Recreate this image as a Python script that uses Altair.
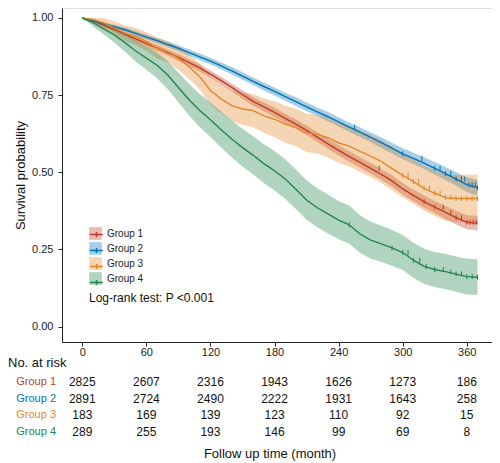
import altair as alt
import pandas as pd

GROUPS = ["Group 1", "Group 2", "Group 3", "Group 4"]
COLORS = ["#BC3C29", "#0072B5", "#E18727", "#20854E"]

TIME = [0, 10, 20, 30, 40, 50, 60, 70, 80, 90, 100, 110, 120, 130, 140, 150, 160, 170, 180,
        190, 200, 210, 220, 230, 240, 250, 260, 270, 280, 290, 300, 310, 320, 330, 340, 350, 360, 370]

SURV = {
    "Group 1": [1.000, 0.990, 0.977, 0.963, 0.948, 0.932, 0.917, 0.903, 0.888, 0.872, 0.855, 0.838,
                0.818, 0.797, 0.775, 0.752, 0.730, 0.712, 0.694, 0.675, 0.656, 0.636, 0.614, 0.592,
                0.571, 0.551, 0.532, 0.513, 0.493, 0.472, 0.446, 0.425, 0.405, 0.387, 0.370, 0.353,
                0.338, 0.335],
    "Group 2": [1.000, 0.992, 0.982, 0.972, 0.962, 0.950, 0.938, 0.927, 0.914, 0.902, 0.888, 0.874,
                0.860, 0.845, 0.829, 0.812, 0.795, 0.778, 0.762, 0.745, 0.729, 0.712, 0.696, 0.680,
                0.663, 0.646, 0.630, 0.613, 0.596, 0.578, 0.560, 0.545, 0.530, 0.513, 0.496, 0.478,
                0.460, 0.450],
    "Group 3": [1.000, 0.995, 0.984, 0.967, 0.951, 0.940, 0.924, 0.902, 0.891, 0.869, 0.842, 0.810,
                0.765, 0.738, 0.716, 0.705, 0.700, 0.683, 0.672, 0.656, 0.645, 0.628, 0.623, 0.612,
                0.595, 0.585, 0.568, 0.552, 0.535, 0.512, 0.490, 0.470, 0.448, 0.432, 0.418, 0.415,
                0.415, 0.415],
    "Group 4": [1.000, 0.985, 0.965, 0.945, 0.920, 0.893, 0.870, 0.847, 0.815, 0.775, 0.735, 0.700,
                0.670, 0.638, 0.608, 0.580, 0.555, 0.528, 0.505, 0.478, 0.445, 0.410, 0.385, 0.365,
                0.345, 0.330, 0.300, 0.280, 0.268, 0.255, 0.240, 0.215, 0.195, 0.185, 0.178, 0.170,
                0.162, 0.160],
}

HALF = {
    "Group 1": [0.000, 0.003, 0.005, 0.006, 0.007, 0.008, 0.009, 0.010, 0.010, 0.011, 0.011, 0.012,
                0.012, 0.013, 0.013, 0.014, 0.014, 0.014, 0.015, 0.015, 0.015, 0.016, 0.016, 0.016,
                0.017, 0.017, 0.017, 0.018, 0.018, 0.018, 0.019, 0.019, 0.020, 0.020, 0.021, 0.022,
                0.023, 0.024],
    "Group 2": [0.000, 0.003, 0.005, 0.006, 0.007, 0.008, 0.008, 0.009, 0.009, 0.010, 0.010, 0.011,
                0.011, 0.011, 0.012, 0.012, 0.012, 0.013, 0.013, 0.013, 0.014, 0.014, 0.014, 0.015,
                0.015, 0.015, 0.016, 0.016, 0.017, 0.017, 0.018, 0.018, 0.019, 0.020, 0.021, 0.022,
                0.024, 0.026],
    "Group 3": [0.000, 0.010, 0.018, 0.022, 0.025, 0.028, 0.030, 0.033, 0.035, 0.037, 0.040, 0.042,
                0.045, 0.047, 0.050, 0.052, 0.054, 0.056, 0.058, 0.060, 0.061, 0.062, 0.063, 0.064,
                0.065, 0.066, 0.067, 0.068, 0.069, 0.070, 0.071, 0.072, 0.073, 0.074, 0.075, 0.076,
                0.077, 0.078],
    "Group 4": [0.000, 0.012, 0.018, 0.024, 0.029, 0.034, 0.038, 0.042, 0.045, 0.048, 0.051, 0.054,
                0.056, 0.058, 0.060, 0.061, 0.062, 0.063, 0.064, 0.064, 0.064, 0.064, 0.063, 0.063,
                0.062, 0.062, 0.061, 0.060, 0.059, 0.058, 0.057, 0.057, 0.057, 0.057, 0.057, 0.057,
                0.058, 0.058],
}

CENSOR = {
    "Group 1": [278, 320, 330, 338, 345, 350, 355, 360, 363, 366, 369],
    "Group 2": [255, 300, 318, 330, 335, 340, 345, 350, 355, 358, 362, 365, 368, 370],
    "Group 3": [300, 305, 310, 315, 320, 325, 330, 335, 340, 345, 350, 355, 360, 365, 370],
    "Group 4": [250, 290, 300, 305, 310, 316, 322, 330, 338, 345, 350, 355, 360, 365, 370],
}

RISK_TIMES = [0, 60, 120, 180, 240, 300, 360]
RISK = {
    "Group 1": [2825, 2607, 2316, 1943, 1626, 1273, 186],
    "Group 2": [2891, 2724, 2490, 2222, 1931, 1643, 258],
    "Group 3": [183, 169, 139, 123, 110, 92, 15],
    "Group 4": [289, 255, 193, 146, 99, 69, 8],
}

FONT = "Liberation Sans"

rows = []
for g in GROUPS:
    for t, s, h in zip(TIME, SURV[g], HALF[g]):
        rows.append(dict(Group=g, Series=g, time=t, surv=s,
                         lo=max(s - h, 0.0), hi=min(s + h, 1.0)))
curve = pd.DataFrame(rows)

crow = []
for g in GROUPS:
    for c in CENSOR[g]:
        idx = min(c // 10, len(TIME) - 1)
        crow.append(dict(Series=g, time=c, surv=SURV[g][idx]))
cens = pd.DataFrame(crow)

rrow = []
for g in GROUPS:
    for t, n in zip(RISK_TIMES, RISK[g]):
        rrow.append(dict(Group=g, time=t, n=str(n)))
risk = pd.DataFrame(rrow)

xscale = alt.Scale(domain=[-19, 383.6], nice=False, zero=False)
yscale = alt.Scale(domain=[-0.05, 1.0324], nice=False, zero=False)

xaxis = alt.Axis(values=RISK_TIMES, format="d", title=None, grid=False, tickSize=4,
                 labelPadding=0, labelFontSize=11, labelColor="#222", domainColor="#222",
                 tickColor="#222", labelFont=FONT)
yaxis = alt.Axis(values=[0, 0.25, 0.5, 0.75, 1.0], format=".2f", title="Survival probability",
                 grid=False, tickSize=4, labelPadding=5, labelFontSize=11, labelColor="#222",
                 domainColor="#222", tickColor="#222", titleFontSize=13, titleFontWeight="normal",
                 titlePadding=4, labelFont=FONT, titleFont=FONT, titleColor="#111")

band = alt.Chart(curve).mark_area(opacity=0.35).encode(
    x=alt.X("time:Q", scale=xscale, axis=xaxis),
    y=alt.Y("lo:Q", scale=yscale, axis=yaxis),
    y2="hi:Q",
    fill=alt.Fill("Group:N", scale=alt.Scale(range=COLORS),
                  legend=alt.Legend(orient="none", legendX=27, legendY=219, title=None,
                                    symbolType="square", symbolSize=160, symbolOpacity=0.35,
                                    symbolStrokeWidth=0, labelFontSize=10, labelOffset=5,
                                    rowPadding=2, labelFont=FONT, labelColor="#222")),
)

line = alt.Chart(curve).mark_line(strokeWidth=1.4).encode(
    x=alt.X("time:Q", scale=xscale),
    y=alt.Y("surv:Q", scale=yscale),
    stroke=alt.Stroke("Series:N", scale=alt.Scale(range=COLORS),
                      legend=alt.Legend(orient="none", legendX=27, legendY=219, title=None,
                                        symbolType="M-1,0H1M0,-0.4V0.4", symbolSize=160,
                                        symbolStrokeWidth=1.5, symbolFillColor="transparent",
                                        labelFontSize=10, labelOffset=5, rowPadding=2,
                                        labelExpr="''", labelFont=FONT)),
)

ticks = alt.Chart(cens).mark_tick(orient="vertical", size=5, thickness=1, opacity=1).encode(
    x=alt.X("time:Q", scale=xscale),
    y=alt.Y("surv:Q", scale=yscale),
    color=alt.Color("Series:N", scale=alt.Scale(range=COLORS), legend=None),
)

logrank = alt.Chart(pd.DataFrame({"time": [6.3], "surv": [0.094], "txt": ["Log-rank test: P <0.001"]})).mark_text(
    align="left", baseline="middle", fontSize=12, font=FONT, color="#111"
).encode(x=alt.X("time:Q", scale=xscale), y=alt.Y("surv:Q", scale=yscale), text="txt:N")

main = alt.layer(band, line, ticks, logrank)

rscale = alt.Scale(type="point", domain=GROUPS, range=[374, 424], padding=0)

risk_nums = alt.Chart(risk).mark_text(fontSize=12, font=FONT, color="#111", baseline="middle").encode(
    x=alt.X("time:Q", scale=xscale),
    y=alt.Y("Group:N", scale=rscale, axis=None),
    text="n:N",
)

risk_labels = alt.Chart(pd.DataFrame({"Group": GROUPS})).mark_text(
    fontSize=11, font=FONT, align="right", baseline="middle"
).encode(
    x=alt.value(-6),
    y=alt.Y("Group:N", scale=rscale, axis=None),
    text="Group:N",
    color=alt.Color("Group:N", scale=alt.Scale(domain=GROUPS, range=COLORS), legend=None),
)

no_risk = alt.Chart(pd.DataFrame({"t": ["No. at risk"]})).mark_text(
    fontSize=13, font=FONT, align="left", baseline="middle", color="#111"
).encode(x=alt.value(-54), y=alt.value(355), text="t:N")

xtitle = alt.Chart(pd.DataFrame({"t": ["Follow up time (month)"]})).mark_text(
    fontSize=13, font=FONT, align="center", baseline="middle", color="#111"
).encode(x=alt.value(208), y=alt.value(446), text="t:N")

table = alt.layer(risk_nums, risk_labels)

chart = alt.layer(main, table, no_risk, xtitle).resolve_scale(
    y="independent", color="independent"
).properties(
    width=430, height=334,
    autosize=alt.AutoSizeParams(type="none"),
    padding={"left": 54, "top": 0, "right": 0, "bottom": 121},
).configure_view(stroke=None).configure(font=FONT)

chart.save("out.html", embed_options={"renderer": "svg", "actions": False})
